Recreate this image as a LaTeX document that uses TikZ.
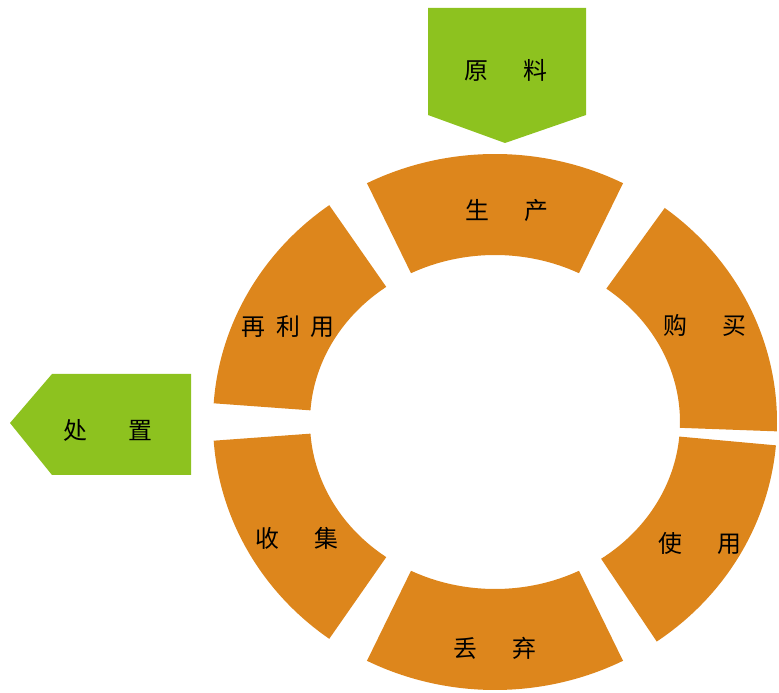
\documentclass[tikz,border=0pt]{standalone}
\usepackage{fontspec}
\setmainfont{Noto Sans CJK SC}
\usetikzlibrary{calc}
\definecolor{ringorange}{RGB}{221,134,28}
\definecolor{taggreen}{RGB}{141,194,31}

\begin{document}
\begin{tikzpicture}[x=0.025cm, y=0.025cm,
  seg/.style={fill=ringorange},
  tag/.style={fill=taggreen},
  lbl/.style={font=\fontsize{17}{17}\selectfont, text=black, inner sep=0pt}]
\useasboundingbox (0,0) rectangle (779,693);
\coordinate (c) at (495,271);
% Ring of six segments
\foreach \a/\b in {63/117, -2/53, -55/-5, -117/-63, -176/-126, 126/176} {
  \fill[seg] ($(c)+(\a:282 and 268)$)
    arc[start angle=\a, end angle=\b, x radius=282, y radius=268]
    -- ($(c)+(\b:185 and 167)$)
    arc[start angle=\b, end angle=\a, x radius=185, y radius=167] -- cycle;
}
% Segment labels
\node[lbl] (shengchan) at (507,483) {生\hspace{1.5em}产};
\node[lbl] (goumai) at (705,368) {购\hspace{1.5em}买};
\node[lbl] (shiyong) at (700,150) {使\hspace{1.5em}用};
\node[lbl] (diuqi) at (495,45) {丢\hspace{1.5em}弃};
\node[lbl] (shouji) at (297,155) {收\hspace{1.5em}集};
\node[lbl] (zailiyong) at (288,366) {再\hspace{0.45em}利\hspace{0.45em}用};
% Green input tag (top)
\fill[tag] (428,685) -- (586,685) -- (586,578) -- (505,550) -- (428,578) -- cycle;
\node[lbl] (yuanliao) at (506,623) {原\hspace{1.5em}料};
% Green output tag (left)
\fill[tag] (191,319) -- (52,319) -- (10,270) -- (52,218) -- (191,218) -- cycle;
\node[lbl] (chuzhi) at (108,263) {处\hspace{1.7em}置};
\end{tikzpicture}
\end{document}
